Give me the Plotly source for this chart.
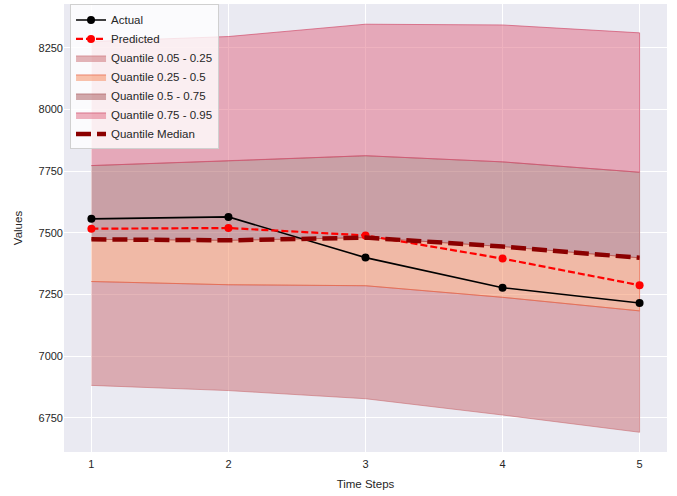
import plotly.graph_objects as go

steps = [1, 2, 3, 4, 5]
actual = [7557, 7565, 7400, 7278, 7216]
predicted = [7517, 7520, 7490, 7396, 7288]
q05 = [6882, 6861, 6828, 6762, 6692]
q25 = [7303, 7290, 7286, 7239, 7184]
q50 = [7474, 7470, 7481, 7445, 7399]
q75 = [7773, 7792, 7813, 7788, 7746]
q95 = [8276, 8296, 8346, 8343, 8311]
median = [7474, 7470, 7481, 7445, 7399]

bands = [
    ("Quantile 0.05 - 0.25", q05, q25, "rgba(202,108,114,0.5)", "rgba(202,108,114,0.6)"),
    ("Quantile 0.25 - 0.5", q25, q50, "rgba(246,136,90,0.5)", "rgba(232,100,70,0.7)"),
    ("Quantile 0.5 - 0.75", q50, q75, "rgba(168,86,90,0.5)", "rgba(168,86,90,0.6)"),
    ("Quantile 0.75 - 0.95", q75, q95, "rgba(224,102,128,0.5)", "rgba(210,80,110,0.7)"),
]

fig = go.Figure()
for i, (name, lo, hi, fc, lc) in enumerate(bands):
    fig.add_trace(go.Scatter(
        x=steps + steps[::-1], y=hi + lo[::-1], fill="toself", fillcolor=fc,
        line=dict(color=lc, width=1), mode="lines", name=name,
        legendrank=10 + i, hoverinfo="skip"))

fig.add_trace(go.Scatter(x=steps, y=actual, mode="lines+markers", name="Actual",
                         line=dict(color="black", width=1.6),
                         marker=dict(color="black", size=8), legendrank=1))
fig.add_trace(go.Scatter(x=steps, y=predicted, mode="lines+markers", name="Predicted",
                         line=dict(color="red", width=2.2, dash="7px,3px"),
                         marker=dict(color="red", size=8), legendrank=2))
fig.add_trace(go.Scatter(x=steps, y=median, mode="lines", name="Quantile Median",
                         line=dict(color="#8b0000", width=4.5, dash="15px,6px"),
                         legendrank=20))

fig.update_layout(
    width=677, height=496,
    margin=dict(l=64, r=10, t=4, b=44, autoexpand=False),
    paper_bgcolor="white", plot_bgcolor="#EAEAF2",
    font=dict(family="Liberation Sans, Arial, sans-serif", size=11, color="#262626"),
    showlegend=True,
    legend=dict(x=0.01, y=0.999, xanchor="left", yanchor="top",
                bgcolor="rgba(255,255,255,0.8)", bordercolor="#d0d0d0", borderwidth=1,
                font=dict(size=11.5), tracegroupgap=0, itemwidth=30),
)
fig.update_xaxes(range=[0.8, 5.2], tickvals=steps, ticktext=[str(s) for s in steps],
                 gridcolor="white", gridwidth=1, zeroline=False, showline=False,
                 ticks="", automargin=False, ticklabelstandoff=4,
                 title=dict(text="Time Steps", standoff=10, font=dict(size=11.5)))
fig.update_yaxes(range=[6612, 8428], tickvals=[6750, 7000, 7250, 7500, 7750, 8000, 8250],
                 gridcolor="white", gridwidth=1, zeroline=False, showline=False,
                 ticks="", automargin=False,
                 title=dict(text="Values", standoff=13, font=dict(size=11.5)))

fig.write_html("out.html", config={"displayModeBar": False},
               post_script="document.body.style.margin='0';")
